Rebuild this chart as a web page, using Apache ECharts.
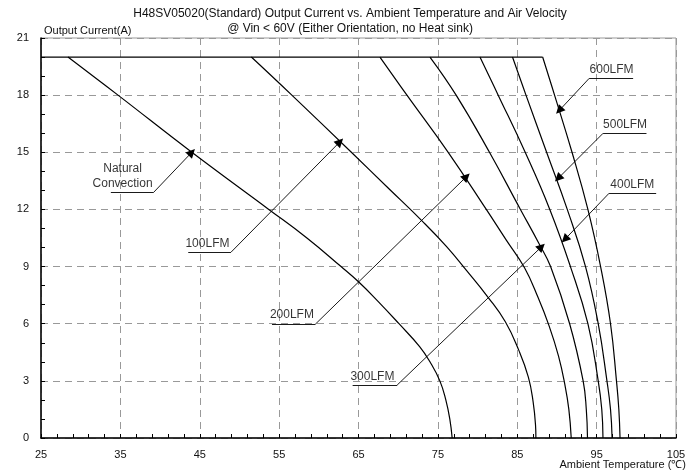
<!DOCTYPE html>
<html>
<head>
<meta charset="utf-8">
<script src="https://cdn.jsdelivr.net/npm/echarts@6/dist/echarts.min.js"></script>
<style>
html,body{margin:0;padding:0;background:#fff;}
#chart{width:700px;height:475px;}
</style>
</head>
<body>
<div id="chart"></div>
<script>
// ---- Data (Ambient temperature in °C, Output current in A) ----
const titleLines = [
  'H48SV05020(Standard) Output Current vs. Ambient Temperature and Air Velocity',
  '@ Vin < 60V (Either Orientation, no Heat sink)'
];
const xAxisName = 'Ambient Temperature (\u2103)';
const yAxisName = 'Output Current(A)';

const ratedCurrent = [[25, 20], [88.2, 20]];

const naturalConvection = [[28.4,20],[34.7,18],[44.0,15],[53.7,12],[58.5,10.5],[62.8,9],[65.0,8.2],[67.4,7.2],[70.1,6],[72.7,4.8],[74.0,4.0],[75.25,3],[76.0,2],[76.5,1],[76.8,0]];
const lfm100 = [[51.5,20],[56.6,18],[64.1,15],[68.8,13.1],[73.0,11.4],[76.1,10.05],[78.6,8.8],[81.3,7.4],[83.5,6.1],[85.2,4.6],[86.4,3.2],[87.0,1.9],[87.3,0.7],[87.35,0]];
const lfm200 = [[67.7,20],[71.1,18],[76.3,15],[81.1,12],[83.6,10.4],[85.9,8.95],[87.6,7.4],[89.0,5.9],[90.2,4.3],[91.0,2.8],[91.5,1.5],[91.8,0]];
const lfm300 = [[74.0,20],[77.3,18],[81.5,15],[85.4,12],[87.75,10.2],[89.2,9],[91.6,6],[93.3,3],[93.7,1.5],[93.85,0]];
const lfm400 = [[80.3,20],[82.6,18],[86.0,15],[89.1,12],[91.7,9],[93.9,6],[95.2,3],[95.65,1.5],[95.8,0]];
const lfm500 = [[84.4,20],[86.1,18],[88.7,15],[91.3,12],[93.6,9],[95.2,6],[96.3,3],[96.75,1.5],[96.95,0]];
const lfm600 = [[88.2,20],[89.7,18],[91.9,15],[93.9,12],[95.5,9],[96.75,6],[97.5,3],[97.8,1.5],[97.95,0]];

const curveNames = ['Natural Convection','100LFM','200LFM','300LFM','400LFM','500LFM','600LFM'];
const curves = [naturalConvection, lfm100, lfm200, lfm300, lfm400, lfm500, lfm600];

// annotation labels (text, anchor value)
const labelTexts = ['Natural\nConvection','100LFM','200LFM','300LFM','400LFM','500LFM','600LFM'];
const labelAnchors = [[35.28,13.76],[45.97,10.22],[56.61,6.46],[66.75,3.22],[99.5,13.28],[98.58,16.43],[96.88,19.32]];
// underline: outer end, inner end ; arrow: from inner end to tip
const underlines = [
  [[33.8,12.9],[39.2,12.9]],
  [[43.55,9.75],[48.93,9.75]],
  [[54.1,5.97],[59.55,5.97]],
  [[64.26,2.78],[69.87,2.78]],
  [[102.5,12.85],[96.57,12.85]],
  [[101.28,16.0],[95.82,16.0]],
  [[99.6,18.88],[94.06,18.88]]
];
const arrowTips = [[44.0,15.0],[62.66,15.55],[78.6,13.72],[88.06,10.04],[91.0,10.43],[90.15,13.63],[90.28,17.19]];

const xTicks = {min: 25, max: 105, interval: 10};
const yTicks = {min: 0, max: 21, interval: 3};

// ---- Chart ----
const FONT = '"Liberation Sans", Arial, sans-serif';
const chart = echarts.init(document.getElementById('chart'), null, {renderer: 'canvas'});

const series = [];
series.push({
  name: 'Rated', type: 'line', data: ratedCurrent, showSymbol: false, silent: true,
  lineStyle: {color: '#000', width: 1.2}
});
curves.forEach((c, i) => {
  series.push({
    name: curveNames[i], type: 'line', data: c, showSymbol: false, silent: true,
    smooth: 0.45,
    lineStyle: {color: '#000', width: 1.2}
  });
});
series.push({
  type: 'lines', coordinateSystem: 'cartesian2d', silent: true,
  symbol: ['none', 'none'],
  lineStyle: {color: '#000', width: 0.9, opacity: 1},
  data: underlines.map(u => ({coords: u}))
});
series.push({
  type: 'lines', coordinateSystem: 'cartesian2d', silent: true,
  symbol: ['none', 'triangle'], symbolSize: [6, 9],
  itemStyle: {color: '#000'},
  lineStyle: {color: '#000', width: 0.9, opacity: 1},
  data: underlines.map((u, i) => ({coords: [u[1], arrowTips[i]]}))
});
series.push({
  type: 'scatter', silent: true, symbolSize: 1,
  itemStyle: {color: 'rgba(0,0,0,0)'},
  label: {show: true, position: 'inside', formatter: '{b}', color: '#000',
          fontFamily: FONT, fontSize: 12, lineHeight: 15, align: 'center', verticalAlign: 'middle'},
  data: labelTexts.map((t, i) => ({name: t, value: labelAnchors[i]}))
});

chart.setOption({
  animation: false,
  backgroundColor: '#fff',
  textStyle: {fontFamily: FONT},
  title: {
    text: titleLines.join('\n'),
    left: 'center', top: 1,
    textStyle: {fontFamily: FONT, fontSize: 12, fontWeight: 'normal', color: '#111', lineHeight: 15}
  },
  graphic: [{
    type: 'text', right: 14, top: 459, silent: true,
    style: {text: xAxisName, font: '11px "Liberation Sans", Arial, sans-serif', fill: '#111'}
  }],
  grid: {left: 41, right: 24, top: 38, bottom: 37, show: true, borderColor: '#999', borderWidth: 1,
         containLabel: false, outerBoundsMode: 'none'},
  xAxis: {
    type: 'value', min: xTicks.min, max: xTicks.max, interval: xTicks.interval,
    axisLine: {show: true, lineStyle: {color: '#000', width: 1.5}},
    axisTick: {show: true, inside: true, length: 4, lineStyle: {color: '#000'}},
    minorTick: {show: true, splitNumber: 5, length: 4, lineStyle: {color: '#000'}},
    axisLabel: {fontFamily: FONT, fontSize: 11, color: '#111', margin: 11},
    splitLine: {show: true, lineStyle: {color: '#999', type: [7, 5], width: 1}}
  },
  yAxis: {
    type: 'value', min: yTicks.min, max: yTicks.max, interval: yTicks.interval,
    name: yAxisName, nameLocation: 'end', nameGap: 2,
    nameTextStyle: {fontFamily: FONT, fontSize: 11, color: '#111', align: 'left', padding: [0, 0, 0, 3]},
    axisLine: {show: true, lineStyle: {color: '#000', width: 1.5}},
    axisTick: {show: true, inside: true, length: 4, lineStyle: {color: '#000'}},
    minorTick: {show: true, splitNumber: 3, length: 4, lineStyle: {color: '#000'}},
    axisLabel: {fontFamily: FONT, fontSize: 11, color: '#111', margin: 12},
    splitLine: {show: true, lineStyle: {color: '#999', type: [7, 5], width: 1}}
  },
  series: series
});
</script>
</body>
</html>
